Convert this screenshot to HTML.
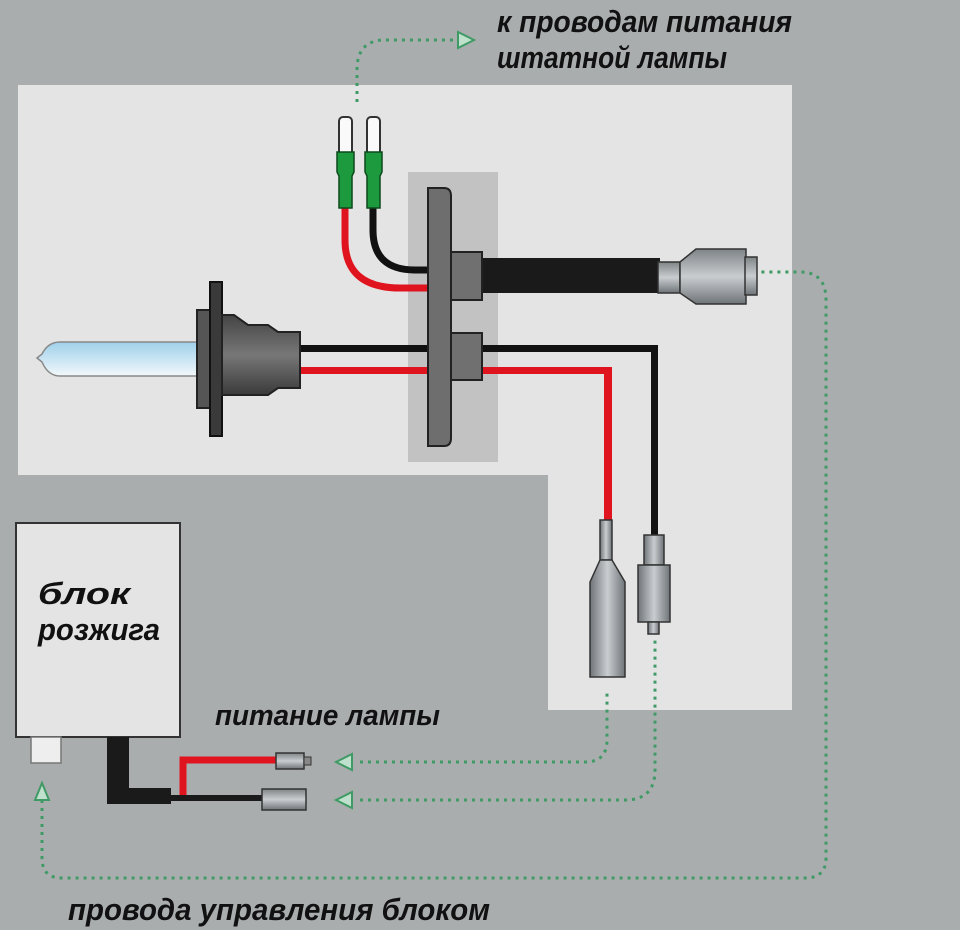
<!DOCTYPE html>
<html><head><meta charset="utf-8"><style>
html,body{margin:0;padding:0;background:#a9adad;}
svg{display:block}
text{font-family:"Liberation Sans","DejaVu Sans",sans-serif;font-weight:bold;font-style:italic;fill:#111}
</style></head><body>
<svg width="960" height="930" viewBox="0 0 960 930" xmlns="http://www.w3.org/2000/svg">
<defs>
<linearGradient id="glass" x1="0" y1="0" x2="0" y2="1"><stop offset="0" stop-color="#9fd0ea"/><stop offset="1" stop-color="#f2f8fb"/></linearGradient>
<linearGradient id="met" x1="0" y1="0" x2="0" y2="1"><stop offset="0" stop-color="#7f8487"/><stop offset=".5" stop-color="#c9cdd0"/><stop offset="1" stop-color="#6f7478"/></linearGradient>
<linearGradient id="metv" x1="0" y1="0" x2="1" y2="0"><stop offset="0" stop-color="#6f7478"/><stop offset=".5" stop-color="#c9cdd0"/><stop offset="1" stop-color="#6f7478"/></linearGradient>
<linearGradient id="base" x1="0" y1="0" x2="0" y2="1"><stop offset="0" stop-color="#444"/><stop offset=".5" stop-color="#777"/><stop offset="1" stop-color="#3a3a3a"/></linearGradient>
</defs>
<rect width="960" height="930" fill="#a9adad"/>
<path d="M18 85H792V710H548V475H18Z" fill="#e4e4e4"/>
<rect x="408" y="172" width="90" height="290" fill="#c2c2c2"/>

<path d="M345 208V240Q345 288 400 288H430" fill="none" stroke="#e0141e" stroke-width="7"/>
<path d="M373 208V230Q373 270 415 270H430" fill="none" stroke="#111" stroke-width="7"/>
<rect x="339" y="117" width="13" height="40" rx="4" fill="#fafafa" stroke="#333" stroke-width="2"/>
<rect x="367" y="117" width="13" height="40" rx="4" fill="#fafafa" stroke="#333" stroke-width="2"/>
<path d="M337 152h17v20l-2 4v32h-13v-32l-2-4z" fill="#1e9a3e" stroke="#0d4a1c" stroke-width="1.5"/>
<path d="M365 152h17v20l-2 4v32h-13v-32l-2-4z" fill="#1e9a3e" stroke="#0d4a1c" stroke-width="1.5"/>

<rect x="300" y="345" width="357" height="7" fill="#111"/>
<rect x="651" y="345" width="7" height="190" fill="#111"/>
<rect x="300" y="367" width="312" height="7" fill="#e0141e"/>
<rect x="604" y="367" width="8" height="155" fill="#e0141e"/>

<rect x="480" y="258" width="180" height="35" fill="#1a1a1a"/>
<path d="M658 262h22v31h-22z" fill="url(#met)" stroke="#333" stroke-width="1.5"/>
<path d="M680 262l16-13h50v55h-50l-16-11z" fill="url(#met)" stroke="#333" stroke-width="1.5"/>
<rect x="745" y="257" width="12" height="38" fill="url(#met)" stroke="#333" stroke-width="1.5"/>

<path d="M428 188h16q7 0 7 8v242q0 8-7 8h-16z" fill="#6e6e6e" stroke="#222" stroke-width="2"/>
<rect x="451" y="252" width="31" height="48" fill="#707070" stroke="#222" stroke-width="2"/>
<rect x="451" y="333" width="31" height="47" fill="#707070" stroke="#222" stroke-width="2"/>

<path d="M197 342H60q-12 0-18 12l-5 4 5 4q6 14 18 14H197z" fill="url(#glass)" stroke="#888" stroke-width="1.5"/>
<rect x="197" y="310" width="22" height="98" fill="#555" stroke="#222" stroke-width="2"/>
<rect x="210" y="282" width="12" height="154" fill="#3a3a3a" stroke="#111" stroke-width="2"/>
<path d="M222 315h12l14 10h20l10 7h22v56h-22l-10 7h-46z" fill="url(#base)" stroke="#222" stroke-width="2"/>

<rect x="600" y="520" width="12" height="40" fill="url(#metv)" stroke="#333" stroke-width="1.5"/>
<path d="M600 560h12l13 22v95h-35v-95z" fill="url(#metv)" stroke="#333" stroke-width="1.5"/>
<rect x="644" y="535" width="20" height="30" fill="url(#metv)" stroke="#333" stroke-width="1.5"/>
<rect x="638" y="565" width="32" height="57" fill="url(#metv)" stroke="#333" stroke-width="1.5"/>
<rect x="648" y="622" width="11" height="12" fill="url(#metv)" stroke="#333" stroke-width="1.5"/>

<rect x="16" y="523" width="164" height="214" fill="#e4e4e4" stroke="#333" stroke-width="2"/>
<text x="38" y="604" font-size="31" textLength="92" lengthAdjust="spacingAndGlyphs">блок</text>
<text x="38" y="640" font-size="31" textLength="122" lengthAdjust="spacingAndGlyphs">розжига</text>
<rect x="31" y="737" width="30" height="26" fill="#eee" stroke="#777" stroke-width="1.5"/>
<rect x="107" y="737" width="22" height="67" fill="#1a1a1a"/>
<rect x="107" y="788" width="64" height="16" fill="#1a1a1a"/>
<path d="M183 800V760H278" fill="none" stroke="#e0141e" stroke-width="7"/>
<rect x="168" y="795" width="96" height="6" fill="#1a1a1a"/>
<rect x="276" y="753" width="28" height="16" fill="url(#met)" stroke="#333" stroke-width="1.5"/>
<rect x="304" y="757" width="7" height="8" fill="#888" stroke="#333"/>
<rect x="262" y="789" width="44" height="21" fill="url(#met)" stroke="#333" stroke-width="1.5"/>

<g fill="none" stroke="#3f9a66" stroke-width="3" stroke-dasharray="3 5">
<path d="M357 102V70Q357 40 385 40H458"/>
<path d="M360 762H585Q607 762 607 740V690"/>
<path d="M360 800H625Q655 800 655 770V640"/>
<path d="M42 800V858Q42 878 62 878H805Q826 878 826 858V300Q826 272 800 272H760"/>
</g>
<g fill="#bfe0cc" stroke="#3f9a66" stroke-width="2">
<path d="M474 40l-16-8v16z"/>
<path d="M336 762l16-8v16z"/>
<path d="M336 800l16-8v16z"/>
<path d="M42 783l-7 17h14z"/>
</g>

<text x="497" y="32" font-size="31" textLength="295" lengthAdjust="spacingAndGlyphs">к проводам питания</text>
<text x="497" y="68" font-size="31" textLength="230" lengthAdjust="spacingAndGlyphs">штатной лампы</text>
<text x="215" y="725" font-size="29" textLength="225" lengthAdjust="spacingAndGlyphs">питание лампы</text>
<text x="68" y="920" font-size="31" textLength="422" lengthAdjust="spacingAndGlyphs">провода управления блоком</text>
</svg>
</body></html>
